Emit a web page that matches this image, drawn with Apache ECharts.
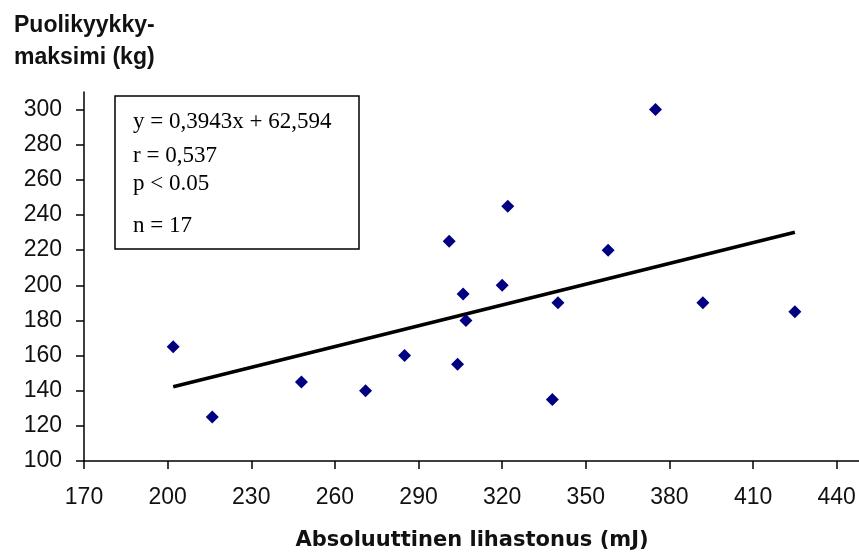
<!DOCTYPE html>
<html>
<head>
<meta charset="utf-8">
<script src="https://cdn.jsdelivr.net/npm/echarts@6/dist/echarts.min.js"></script>
<style>
  html, body { margin: 0; padding: 0; background: #ffffff; }
  #chart { width: 859px; height: 553px; }
</style>
</head>
<body>
<div id="chart"></div>
<script>
// Muscle tone (mJ) vs. half-squat maximum (kg), one point per subject
const lihastonus = [202, 216, 248, 271, 285, 301, 304, 306, 307, 320, 322, 338, 340, 358, 375, 392, 425];
const puolikyykky = [165, 125, 145, 140, 160, 225, 155, 195, 180, 200, 245, 135, 190, 220, 300, 190, 185];

// Linear regression as reported in the stats box
const slope = 0.3943;
const intercept = 62.594;
const statLines = ['y = 0,3943x + 62,594', 'r = 0,537', 'p < 0.05', 'n = 17'];

const xTicks = [170, 200, 230, 260, 290, 320, 350, 380, 410, 440];
const yTicks = [100, 120, 140, 160, 180, 200, 220, 240, 260, 280, 300];

const points = lihastonus.map((x, i) => [x, puolikyykky[i]]);
const xMin = Math.min(...lihastonus);
const xMax = Math.max(...lihastonus);
const trend = [[xMin, slope * xMin + intercept], [xMax, slope * xMax + intercept]];

const sans = '"Liberation Sans", Arial, sans-serif';
const wide = '"DejaVu Sans", Verdana, sans-serif';
const serif = '"Liberation Serif", "Times New Roman", serif';

const chart = echarts.init(document.getElementById('chart'));
chart.setOption({
  backgroundColor: '#ffffff',
  animation: false,
  grid: { left: 84, right: 0, top: 92, bottom: 92 },
  xAxis: {
    type: 'value',
    min: 170, max: 448, interval: 30,
    axisLine: { show: true, lineStyle: { color: '#000', width: 1.5 } },
    axisTick: { show: true, length: 8, lineStyle: { color: '#000', width: 1.5 }, customValues: xTicks },
    axisLabel: { customValues: xTicks, margin: 25, fontFamily: sans, fontSize: 23, color: '#111' },
    splitLine: { show: false }
  },
  yAxis: {
    type: 'value',
    min: 100, max: 310, interval: 20,
    axisLine: { show: true, lineStyle: { color: '#000', width: 1.5 } },
    axisTick: { show: true, length: 8, lineStyle: { color: '#000', width: 1.5 }, customValues: yTicks },
    axisLabel: { customValues: yTicks, margin: 22, fontFamily: sans, fontSize: 23, color: '#111' },
    splitLine: { show: false }
  },
  series: [
    {
      type: 'line',
      data: trend,
      symbol: 'none',
      lineStyle: { color: '#000', width: 3.5 },
      z: 2
    },
    {
      type: 'scatter',
      data: points,
      symbol: 'diamond',
      symbolSize: 13,
      itemStyle: { color: '#000080', opacity: 1 },
      z: 3
    }
  ],
  graphic: [
    {
      type: 'text', left: 14, top: 10,
      style: { text: 'Puolikyykky-\nmaksimi (kg)', fontFamily: sans, fontWeight: 'bold', fontSize: 23, lineHeight: 32, fill: '#111' }
    },
    {
      type: 'text', x: 472, y: 541,
      style: { text: 'Absoluuttinen lihastonus (mJ)', fontFamily: wide, fontWeight: 'bold', fontSize: 21, fill: '#111', align: 'center', verticalAlign: 'middle' }
    },
    {
      type: 'rect', shape: { x: 115, y: 96, width: 244, height: 153 },
      style: { fill: '#ffffff', stroke: '#000', lineWidth: 1.5 }, z: 10
    },
    { type: 'text', x: 133, y: 122, z: 11, style: { text: statLines[0], fontFamily: serif, fontSize: 23, fill: '#000', verticalAlign: 'middle' } },
    { type: 'text', x: 133, y: 156, z: 11, style: { text: statLines[1], fontFamily: serif, fontSize: 23, fill: '#000', verticalAlign: 'middle' } },
    { type: 'text', x: 133, y: 184, z: 11, style: { text: statLines[2], fontFamily: serif, fontSize: 23, fill: '#000', verticalAlign: 'middle' } },
    { type: 'text', x: 133, y: 226, z: 11, style: { text: statLines[3], fontFamily: serif, fontSize: 23, fill: '#000', verticalAlign: 'middle' } }
  ]
});
</script>
</body>
</html>
